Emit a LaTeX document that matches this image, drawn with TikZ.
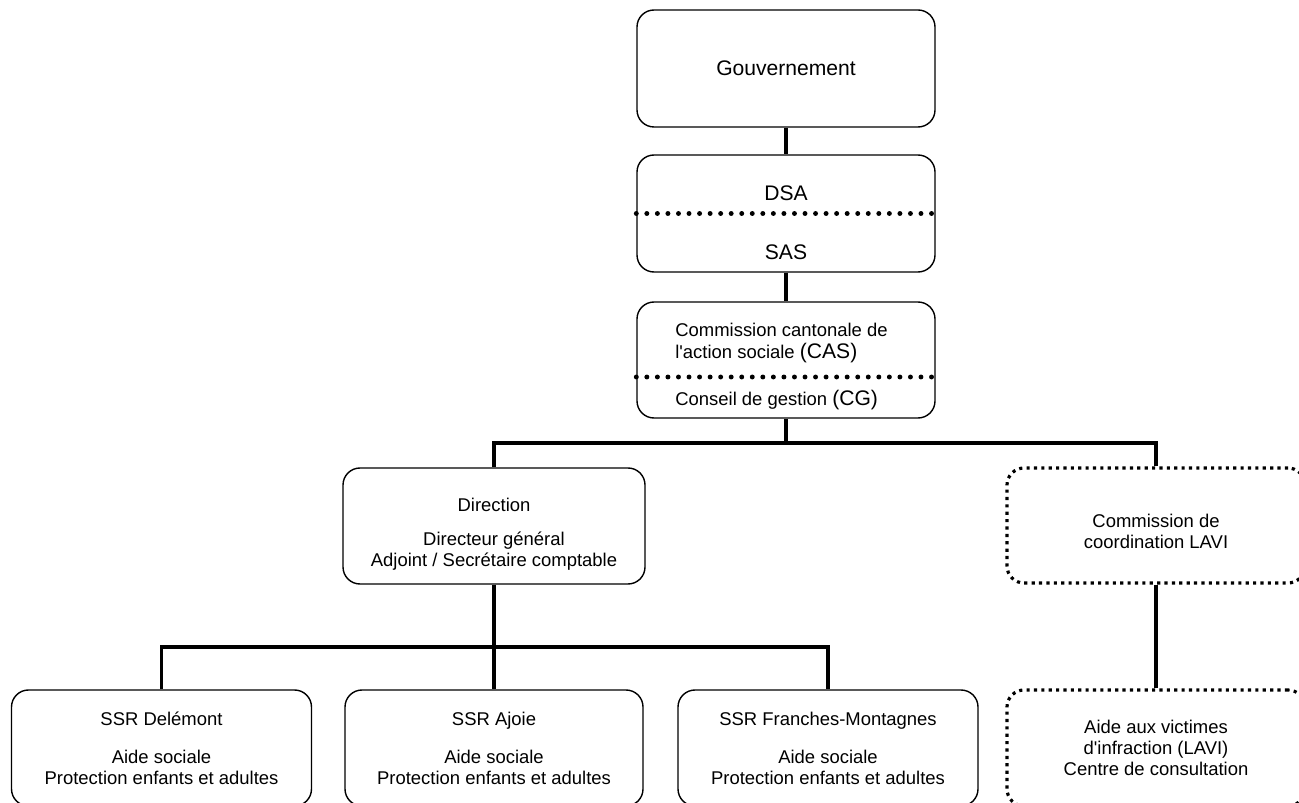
\documentclass[tikz,border=0pt]{standalone}
\usepackage{fontspec}
\setmainfont{Liberation Sans}
\usetikzlibrary{positioning, calc}
\tikzset{every node/.style={ % Default text of every node
            font=\fontsize{10.5}{12}\selectfont,
            inner sep=0pt},
        big/.style={font=\fontsize{12}{14}\selectfont}, % Larger titles
        box/.style={ % Sets the properties for each box
            draw,
            line width=0.8pt,
            rounded corners=0.34cm,
            minimum width=5.96cm,
            minimum height=2.34cm,
            align=center},
        dotbox/.style={ % Boxes with a dotted border
            box,
            line width=1.8pt,
            dash pattern=on 1.8pt off 2.4pt},
        link/.style={line width=2pt}, % Connectors between boxes
        sep/.style={ % Dotted line splitting a box
            line width=2.8pt,
            line cap=round,
            dash pattern=on 0pt off 6pt}
        }

\begin{document}
\begin{tikzpicture}
    \clip (0,0) rectangle (25.98,-16.06);

    % top of the chart
    \node[box,big] (gouv) at (15.72,-1.37) {Gouvernement};
    \node[box]     (dsa)  at (15.72,-4.27) {};
    \node[box,minimum height=2.32cm] (cas) at (15.72,-7.2) {};

    \node[big] (dsa-top) at (15.72,-3.86) {DSA};
    \node[big] (dsa-bot) at (15.72,-5.04) {SAS};
    \node[anchor=west,align=left] (cas-top) at (13.5,-6.86)
        {Commission cantonale de\\l\textquotesingle action sociale {\fontsize{12}{12}\selectfont(CAS)}};
    \node[anchor=west] (cas-bot) at (13.5,-8.0)
        {Conseil de gestion {\fontsize{12}{12}\selectfont(CG)}};

    \draw[sep] (dsa.west) -- (dsa.east);
    \draw[sep] ($(cas.west)+(0,-0.34)$) -- ($(cas.east)+(0,-0.34)$);

    % middle row
    \node[box,minimum width=6.04cm,minimum height=2.32cm] (dir) at (9.88,-10.52) {};
    \node[align=center] (dir-text) at ($(dir)+(0,-0.16)$)
        {Direction\\[7.3pt]Directeur général\\Adjoint / Secrétaire comptable};
    \node[dotbox,minimum height=2.3cm] (lavic) at (23.12,-10.51) {};
    \node[align=center] (lavic-text) at ($(lavic)+(0,-0.12)$)
        {Commission de\\coordination LAVI};

    % bottom row
    \node[box,minimum width=6cm,minimum height=2.32cm] (delemont) at (3.23,-14.96)
        {SSR Delémont\\[9.6pt]Aide sociale\\Protection enfants et adultes};
    \node[box,minimum width=5.96cm,minimum height=2.32cm] (ajoie) at (9.88,-14.96)
        {SSR Ajoie\\[9.6pt]Aide sociale\\Protection enfants et adultes};
    \node[box,minimum width=6cm,minimum height=2.32cm] (franches) at (16.56,-14.96)
        {SSR Franches-Montagnes\\[9.6pt]Aide sociale\\Protection enfants et adultes};
    \node[dotbox,minimum height=2.32cm] (lavib) at (23.12,-14.96)
        {Aide aux victimes\\d\textquotesingle infraction (LAVI)\\Centre de consultation};

    \coordinate (bar1) at (15.72,-8.86);
    \coordinate (bar2) at (9.88,-12.94);

    \draw[link] (gouv) -- (dsa);
    \draw[link] (dsa) -- (cas);
    \draw[link] (cas) -- (bar1);
    \draw[link] (dir.north) |- (bar1) -| (lavic.north);
    \draw[link] (dir) -- (ajoie);
    \draw[link] (delemont.north) |- (bar2) -| (franches.north);
    \draw[link] (lavic) -- (lavib);
\end{tikzpicture}
\end{document}
